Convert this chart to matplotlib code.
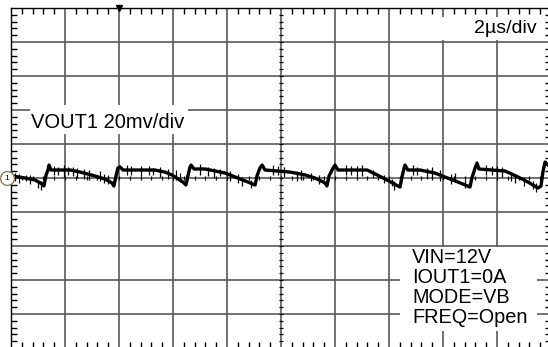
import numpy as np
import matplotlib
matplotlib.use('Agg')
import matplotlib.pyplot as plt
from matplotlib.ticker import MultipleLocator
from matplotlib.patches import Rectangle

plt.rcParams['font.family'] = ['Liberation Sans', 'DejaVu Sans']

# scope settings
t_per_div = 2.0     # us/div
v_per_div = 20.0    # mV/div

# VOUT1 ripple trace (time in us, voltage in mV)
trace_t = [0.04, 0.52, 0.89, 1.15, 1.22, 1.30, 1.37, 1.41, 1.48,
           1.81, 2.19, 2.56, 3.11, 3.48, 3.74, 3.81, 3.89, 3.96, 4.04, 4.15,
           4.59, 5.33, 5.70, 5.96, 6.37, 6.48, 6.56, 6.63, 6.67, 6.78,
           7.19, 7.93, 8.30, 8.78, 9.04, 9.11, 9.22, 9.30, 9.41,
           10.33, 10.89, 11.26, 11.63, 11.70, 11.78, 11.93, 12.00, 12.11,
           13.19, 13.56, 13.93, 14.33, 14.41, 14.48, 14.56, 14.59, 14.70,
           15.15, 15.70, 16.07, 16.56, 17.00, 17.07, 17.19, 17.26, 17.33,
           18.30, 18.78, 19.15, 19.52, 19.63, 19.70, 19.78, 19.89]
trace_v = [1.2, 0.0, -1.2, -3.5, -4.7, 1.8, 4.7, 7.6, 4.7,
           4.7, 4.7, 3.5, 1.2, -0.6, -2.9, -4.7, 1.2, 5.9, 6.5, 4.7,
           4.7, 4.7, 3.5, 1.8, -2.4, -4.1, 1.8, 6.5, 7.6, 5.3,
           5.3, 2.9, 0.6, -2.4, -4.1, 1.2, 5.9, 7.6, 4.7,
           3.5, 1.8, 0.0, -2.9, -4.7, 1.2, 5.9, 7.6, 4.7,
           4.7, 1.8, -1.2, -4.7, -5.3, 0.6, 5.9, 7.6, 4.7,
           4.7, 2.9, 0.6, -2.4, -5.3, 0.0, 5.9, 8.8, 5.3,
           4.1, 0.6, -2.4, -5.9, -4.7, 3.5, 9.4, 7.6]

# noise spikes on the trace (time, low, high) in us / mV
spike_t = [0.15, 0.30, 0.55, 0.70, 1.00, 1.10, 1.60, 1.75, 1.95, 2.10, 2.30, 2.45,
           2.70, 2.90, 3.30, 3.45, 3.60, 4.30, 4.45, 4.80, 5.10, 5.25, 5.50, 5.80,
           6.10, 6.25, 7.00, 7.30, 7.50, 7.75, 8.10, 8.40, 8.55, 8.90,
           9.70, 9.90, 10.10, 10.60, 10.75, 11.10, 11.40, 12.40, 12.60, 12.80,
           13.00, 13.40, 13.80, 14.10, 14.20, 14.90, 15.05, 15.40, 15.60,
           15.90, 16.30, 16.45, 16.80, 17.60, 17.80, 18.00, 18.20, 18.50,
           18.65, 19.00, 19.35, 19.45]
spike_lo = [-1.5, -3.0, -2.0, -3.5, -6.0, -7.0, 1.5, 2.0, 0.5, 2.0, 1.0, 0.0,
            -0.5, -1.0, -1.5, -3.0, -3.5, 1.5, 1.5, 1.0, 1.5, 2.0, 0.5, -0.5,
            -1.0, -2.5, 2.0, 1.0, 0.0, 1.0, -1.5, -3.0, -4.5, -6.0,
            1.5, 2.0, 0.5, -1.5, -1.0, -2.0, -3.5, 1.5, 2.0, 1.0,
            1.0, 0.0, -3.0, -4.5, -7.0, 1.5, 2.0, -0.5, 0.5,
            -2.0, -3.5, -2.5, -6.0, 1.5, 2.0, 1.0, 0.5, -2.0,
            -3.0, -4.5, -6.5, -8.0]
spike_hi = [3.0, 2.5, 2.0, 1.5, -1.0, -2.0, 7.0, 6.5, 7.5, 6.5, 6.5, 6.0,
            5.5, 5.0, 4.0, 2.5, 2.0, 7.5, 7.0, 7.0, 7.0, 6.0, 6.5, 5.5,
            4.5, 3.0, 8.0, 6.5, 6.0, 5.5, 4.0, 2.5, 0.5, -1.0,
            7.5, 7.0, 6.5, 4.0, 4.5, 3.0, 1.5, 7.5, 7.0, 7.0,
            7.5, 5.0, 2.0, -0.5, -1.5, 7.5, 6.5, 6.0, 6.5,
            4.5, 2.5, 3.0, -1.0, 7.5, 7.0, 7.0, 6.5, 3.5,
            2.5, 0.5, -2.0, -3.0]

label_ch = "VOUT1 20mv/div"
label_time = "2\u00b5s/div"
label_cond = ["VIN=12V", "IOUT1=0A", "MODE=VB", "FREQ=Open"]

W, H = 548, 347
fig = plt.figure(figsize=(W / 100.0, H / 100.0), dpi=100)
# graticule: 10 x 10 divisions, 54 x 34 px each, starting at (11, 8)
ax = fig.add_axes([11.0 / W, (H - 348.0) / H, 540.0 / W, 340.0 / H])

ax.set_xlim(0, 10 * t_per_div)
ax.set_ylim(-5 * v_per_div, 5 * v_per_div)
ax.xaxis.set_major_locator(MultipleLocator(t_per_div))
ax.yaxis.set_major_locator(MultipleLocator(v_per_div))
ax.xaxis.set_minor_locator(MultipleLocator(t_per_div / 5))
ax.yaxis.set_minor_locator(MultipleLocator(v_per_div / 5))
ax.tick_params(which='major', length=0, labelbottom=False, labelleft=False)
ax.tick_params(which='minor', direction='in', length=4, width=1.0, color='black',
               top=True, right=True, bottom=True, left=True)
ax.grid(True, which='major', color='#5a5a5a', linewidth=1.2)
for s in ax.spines.values():
   s.set_color('black')
   s.set_linewidth(1.0)

# minor ticks on the centre cross
cx = 5 * t_per_div
mt = np.arange(0, 10 * t_per_div + 0.01, t_per_div / 5)
mv = np.arange(-5 * v_per_div, 5 * v_per_div + 0.01, v_per_div / 5)
ax.plot(mt, np.zeros_like(mt), linestyle='none', marker='|', markersize=3.5, color='black', mew=0.9)
ax.plot(np.full_like(mv, cx), mv, linestyle='none', marker='_', markersize=3.5, color='black', mew=0.9)

# trace
ax.plot(trace_t, trace_v, color='black', linewidth=2.4, zorder=5)
ax.vlines(spike_t, spike_lo, spike_hi, color='black', linewidth=0.9, zorder=5)

# trigger marker and channel marker
ax.plot([2 * t_per_div], [5 * v_per_div], marker='v', markersize=4, color='black', clip_on=False, zorder=6)
ax.plot([-0.15], [0], marker='o', markersize=10, markerfacecolor='white',
        markeredgecolor='#8a8060', mew=1.0, clip_on=False, zorder=6)
ax.text(-0.15, 0, "1", fontsize=6, ha='center', va='center', zorder=7, clip_on=False)

# white boxes behind the screen labels (pixel boxes: x0, y0, x1, y1)
def white_box(x0, y0, x1, y1):
   fig.add_artist(Rectangle((x0 / W, 1 - y1 / H), (x1 - x0) / W, (y1 - y0) / H,
                            transform=fig.transFigure, facecolor='white',
                            edgecolor='none', zorder=1))

white_box(30, 105, 188, 134)
white_box(392, 17, 544, 40)
white_box(400, 247, 537, 331)

fig.text(31.0 / W, 1 - 128.0 / H, label_ch, fontsize=14.5, ha='left', va='baseline', zorder=3)
fig.text(537.0 / W, 1 - 33.0 / H, label_time, fontsize=14, ha='right', va='baseline', zorder=3)
for i, line in enumerate(label_cond):
   y_base = 263.0 + i * 20.0
   fig.text(412.0 / W, 1 - y_base / H, line, fontsize=14.3, ha='left', va='baseline', zorder=3)

fig.savefig('out.png', dpi=100)
